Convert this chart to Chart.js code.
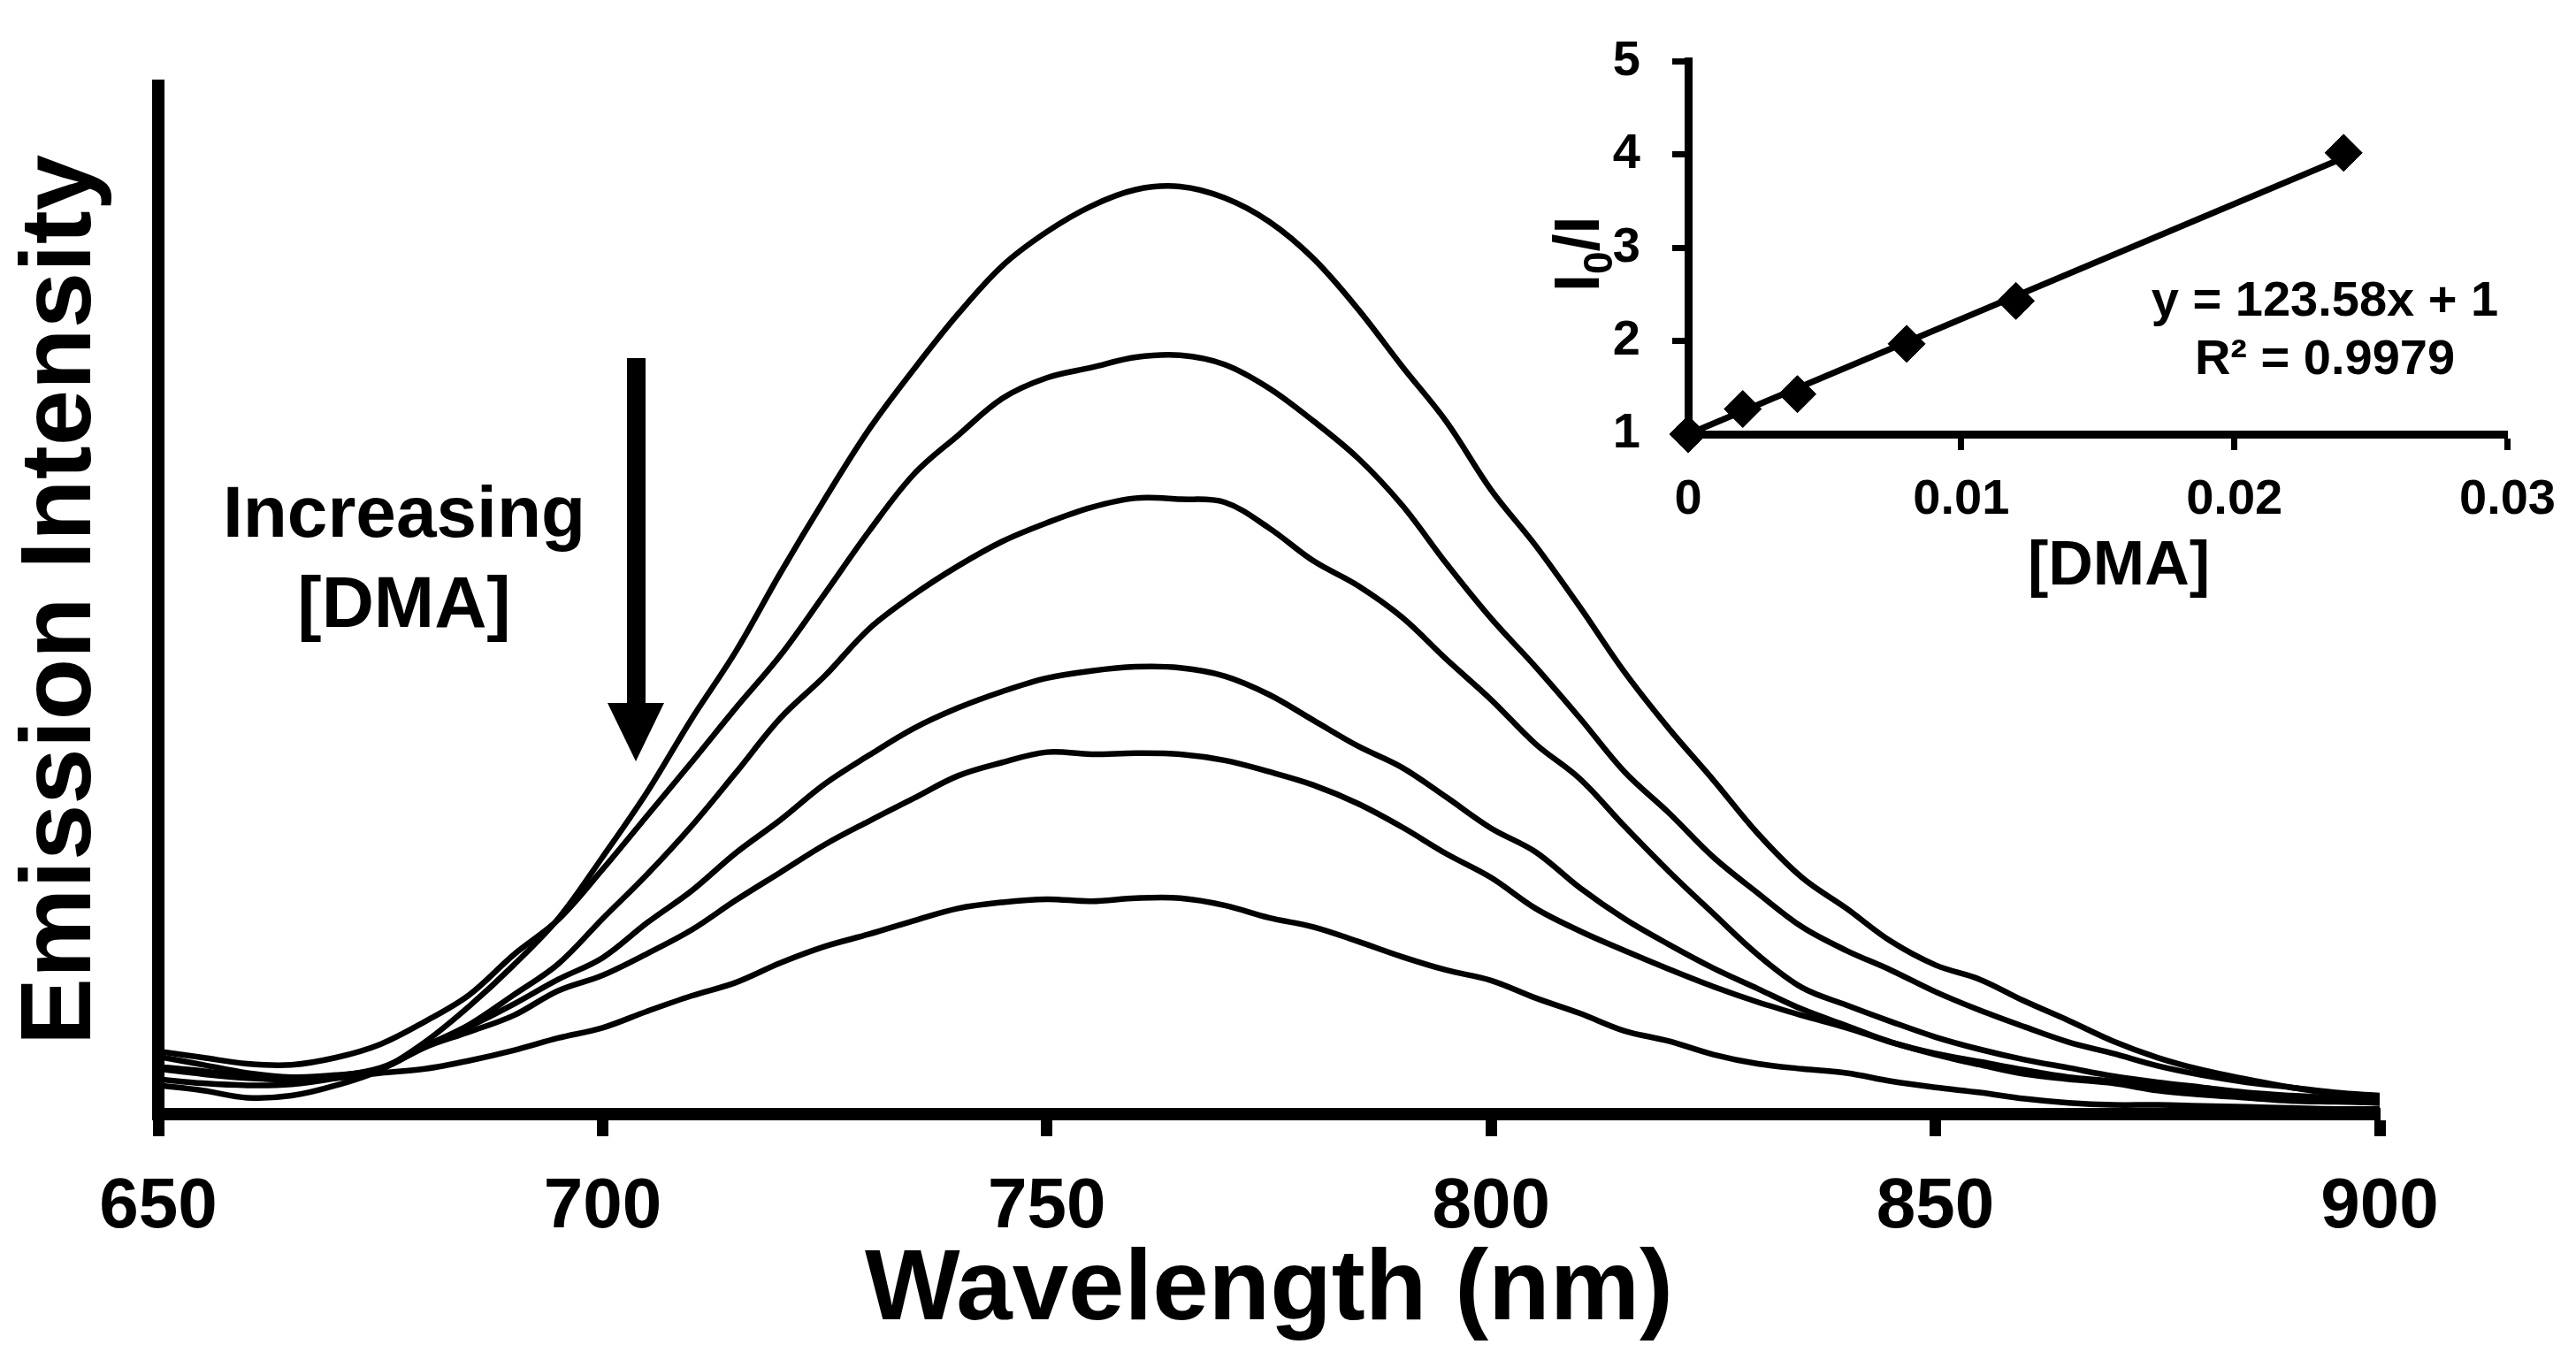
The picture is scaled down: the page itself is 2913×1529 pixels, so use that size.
<!DOCTYPE html>
<html>
<head>
<meta charset="utf-8">
<script src="https://cdn.jsdelivr.net/npm/chart.js@4.4.1/dist/chart.umd.min.js"></script>
<style>
  html, body { margin: 0; padding: 0; background: #fff; overflow: hidden; }
  #wrap { position: relative; width: 2913px; height: 1529px; }
  #main { position: absolute; left: 0; top: 0; }
  #inset { position: absolute; left: 1700px; top: 0; }
</style>
</head>
<body>
<div id="wrap">
  <canvas id="main" width="2913" height="1529" style="width:2913px;height:1529px"></canvas>
  <canvas id="inset" width="1213" height="700" style="width:1213px;height:700px"></canvas>
</div>
<script>
// ---------------- data: main emission spectra ----------------
const wavelengths = [650,655,660,665,670,675,680,685,690,695,700,705,710,715,720,725,730,735,740,745,
  750,755,760,765,770,775,780,785,790,795,800,805,810,815,820,825,830,835,840,845,
  850,855,860,865,870,875,880,885,890,895,900];

const spectrum1 = [2.8,2.3,1.6,1.8,2.8,4.3,7.0,10.5,14.5,19.0,25.0,31.3,38.4,45.0,52.6,59.8,66.6,72.4,77.8,82.5,
  85.8,88.3,89.9,90.2,89.1,86.8,83.2,78.3,72.7,67.3,60.7,55.3,49.3,43.0,37.5,32.5,27.3,23.0,20.0,16.8,
  14.5,13.1,11.0,9.1,7.1,5.5,4.3,3.4,2.6,2.0,1.7];
const spectrum2 = [6.1,5.5,4.9,4.8,5.5,6.8,9.0,11.6,15.5,18.9,23.8,29.0,34.2,39.5,44.6,50.6,56.7,62.2,66.0,69.6,
  71.6,72.6,73.6,73.8,72.9,70.6,67.4,63.8,59.2,53.5,48.2,43.5,38.5,33.3,29.3,25.0,21.5,18.2,15.9,14.0,
  11.9,10.1,8.5,7.0,5.9,4.7,3.8,3.1,2.6,2.1,1.8];
const spectrum3 = [5.6,4.8,4.0,3.6,3.8,4.4,6.6,8.7,11.6,14.6,19.0,23.3,28.0,33.2,38.5,42.6,47.2,50.5,53.3,55.7,
  57.5,59.0,59.9,59.8,59.5,57.0,53.8,51.4,48.3,44.2,40.3,36.0,32.6,28.0,23.6,19.5,15.5,12.3,10.6,9.0,
  7.5,6.3,5.3,4.5,3.7,3.1,2.6,2.1,1.8,1.6,1.5];
const spectrum4 = [4.4,3.9,3.5,3.4,3.7,4.5,6.5,8.5,10.7,13.1,15.2,18.6,21.7,25.4,28.6,32.1,34.9,37.5,39.5,41.1,
  42.4,43.1,43.5,43.4,42.6,40.8,38.3,35.8,33.7,30.8,27.8,25.5,22.0,19.0,16.5,14.2,12.2,10.2,8.6,7.0,
  5.9,5.1,4.3,3.6,3.2,2.6,2.2,1.9,1.5,1.3,1.1];
const spectrum5 = [3.4,3.0,2.8,2.9,3.5,4.4,6.5,8.0,9.6,12.0,13.5,15.6,17.9,20.8,23.5,26.2,28.5,30.7,32.9,34.2,
  35.2,35.0,35.1,35.0,34.4,33.3,32.0,30.2,27.9,25.3,23.0,20.0,17.8,15.9,14.1,12.4,10.9,9.6,8.4,7.0,
  5.8,4.8,3.9,3.4,3.0,2.3,1.9,1.6,1.3,1.2,1.1];
const spectrum6 = [4.6,4.2,3.6,3.3,3.5,4.0,4.4,5.2,6.2,7.4,8.4,10.0,11.5,12.8,14.7,16.3,17.5,18.8,20.0,20.6,
  20.9,20.7,21.0,21.0,20.3,19.1,18.2,16.8,15.3,14.0,13.0,11.3,9.8,8.1,7.1,5.8,4.9,4.4,4.0,3.2,
  2.6,2.1,1.5,1.1,0.9,0.9,0.8,0.7,0.6,0.5,0.5];

const xTickValues = [650, 700, 750, 800, 850, 900];

// ---------------- data: inset Stern–Volmer ----------------
const dmaConc = [0, 0.002, 0.004, 0.008, 0.012, 0.024];
const ratioI0I = [1.0, 1.27, 1.43, 1.97, 2.43, 4.02];
const fitSlope = 123.58;
const fitIntercept = 1;
const insetXTicks = [0, 0.01, 0.02, 0.03];
const insetYTicks = [1, 2, 3, 4, 5];
const equationLines = ['y = 123.58x + 1', 'R\u00B2 = 0.9979'];

// ---------------- styling ----------------
const FAM = '"Liberation Sans", Arial, Helvetica, sans-serif';

function toXY(xs, ys) { return xs.map((x, i) => ({ x: x, y: ys[i] })); }

const spectra = [spectrum1, spectrum2, spectrum3, spectrum4, spectrum5, spectrum6];

const mainDecor = {
  id: 'mainDecor',
  afterDraw(chart) {
    const ctx = chart.ctx;
    const ca = chart.chartArea;
    ctx.save();
    ctx.fillStyle = '#000';
    // y title
    ctx.save();
    ctx.translate(102, (ca.top + ca.bottom) / 2);
    ctx.rotate(-Math.PI / 2);
    ctx.font = 'bold 114px ' + FAM;
    ctx.textAlign = 'center';
    ctx.textBaseline = 'alphabetic';
    ctx.fillText('Emission Intensity', 0, 0);
    ctx.restore();
    // x title
    ctx.font = 'bold 114px ' + FAM;
    ctx.textAlign = 'center';
    ctx.textBaseline = 'alphabetic';
    ctx.fillText('Wavelength (nm)', (ca.left + ca.right) / 2, 1492);
    // annotation
    ctx.font = 'bold 82px ' + FAM;
    ctx.fillText('Increasing', 457, 607);
    ctx.fillText('[DMA]', 457, 709);
    // arrow
    ctx.fillRect(709, 405, 21, 392);
    ctx.beginPath();
    ctx.moveTo(687, 795);
    ctx.lineTo(751, 795);
    ctx.lineTo(719, 861);
    ctx.closePath();
    ctx.fill();
    ctx.restore();
  }
};

new Chart(document.getElementById('main'), {
  type: 'line',
  data: {
    datasets: spectra.map(s => ({
      data: toXY(wavelengths, s),
      borderColor: '#000',
      borderWidth: 6.5,
      pointRadius: 0,
      tension: 0.35,
      fill: false
    }))
  },
  options: {
    responsive: false,
    animation: false,
    devicePixelRatio: 1,
    layout: { padding: { left: 0, top: 97, right: 222, bottom: 0 } },
    plugins: { legend: { display: false }, tooltip: { enabled: false } },
    scales: {
      x: {
        type: 'linear', min: 650, max: 900,
        afterBuildTicks: s => { s.ticks = xTickValues.map(v => ({ value: v })); },
        ticks: { font: { family: FAM, size: 80, weight: 'bold' }, color: '#000', padding: 33, maxRotation: 0, autoSkip: false },
        grid: { display: true, drawOnChartArea: false, drawTicks: true, tickLength: 25, tickWidth: 13, tickColor: '#000' },
        border: { display: true, width: 14, color: '#000' },
        afterFit: s => { s.height = 269; }
      },
      y: {
        type: 'linear', min: 0, max: 100,
        ticks: { display: false },
        grid: { display: false },
        border: { display: true, width: 14, color: '#000' },
        afterFit: s => { s.width = 179; }
      }
    }
  },
  plugins: [mainDecor]
});

const insetDecor = {
  id: 'insetDecor',
  afterDraw(chart) {
    const ctx = chart.ctx;
    const ox = 1700, oy = 0; // canvas offset on page
    ctx.save();
    ctx.fillStyle = '#000';
    // y title I0/I (rotated, with subscript)
    ctx.save();
    ctx.translate(1808 - ox, 330 - oy);
    ctx.rotate(-Math.PI / 2);
    ctx.textAlign = 'left';
    ctx.textBaseline = 'alphabetic';
    ctx.font = 'bold 72px ' + FAM;
    let x = 0;
    ctx.fillText('I', x, 0);
    x += ctx.measureText('I').width;
    ctx.font = 'bold 46px ' + FAM;
    ctx.fillText('0', x, 15);
    x += ctx.measureText('0').width;
    ctx.font = 'bold 72px ' + FAM;
    ctx.fillText('/I', x, 0);
    ctx.restore();
    // x title
    ctx.font = 'bold 70px ' + FAM;
    ctx.textAlign = 'center';
    ctx.fillText('[DMA]', 2396 - ox, 661 - oy);
    // equation
    ctx.font = 'bold 56px ' + FAM;
    ctx.fillText(equationLines[0], 2629 - ox, 357 - oy);
    ctx.fillText(equationLines[1], 2629 - ox, 423 - oy);
    ctx.restore();
  }
};

new Chart(document.getElementById('inset'), {
  type: 'scatter',
  data: {
    datasets: [
      {
        type: 'line',
        data: [
          { x: dmaConc[0], y: fitSlope * dmaConc[0] + fitIntercept },
          { x: dmaConc[dmaConc.length - 1], y: fitSlope * dmaConc[dmaConc.length - 1] + fitIntercept }
        ],
        borderColor: '#000', borderWidth: 7, pointRadius: 0, fill: false, order: 2
      },
      {
        type: 'scatter',
        data: toXY(dmaConc, ratioI0I),
        pointStyle: 'rectRot', pointRadius: 21,
        backgroundColor: '#000', borderColor: '#000', borderWidth: 1, order: 1
      }
    ]
  },
  options: {
    responsive: false,
    animation: false,
    devicePixelRatio: 1,
    clip: false,
    layout: { padding: { left: 0, top: 50, right: 72, bottom: 0 } },
    plugins: { legend: { display: false }, tooltip: { enabled: false } },
    scales: {
      x: {
        type: 'linear', min: 0, max: 0.03,
        afterBuildTicks: s => { s.ticks = insetXTicks.map(v => ({ value: v })); },
        ticks: { font: { family: FAM, size: 56, weight: 'bold' }, color: '#000', padding: 23, maxRotation: 0, autoSkip: false,
                 callback: v => String(v) },
        grid: { display: true, drawOnChartArea: false, drawTicks: true, tickLength: 18, tickWidth: 7, tickColor: '#000' },
        border: { display: true, width: 9, color: '#000' },
        afterFit: s => { s.height = 209; }
      },
      y: {
        type: 'linear', min: 1, max: 5,
        afterBuildTicks: s => { s.ticks = insetYTicks.map(v => ({ value: v })); },
        ticks: { font: { family: FAM, size: 56, weight: 'bold' }, color: '#000', padding: 36, autoSkip: false },
        grid: { display: true, drawOnChartArea: false, drawTicks: true, tickLength: 18, tickWidth: 7, tickColor: '#000' },
        border: { display: true, width: 9, color: '#000' },
        afterFit: s => { s.width = 209; }
      }
    }
  },
  plugins: [insetDecor]
});
</script>
</body>
</html>
